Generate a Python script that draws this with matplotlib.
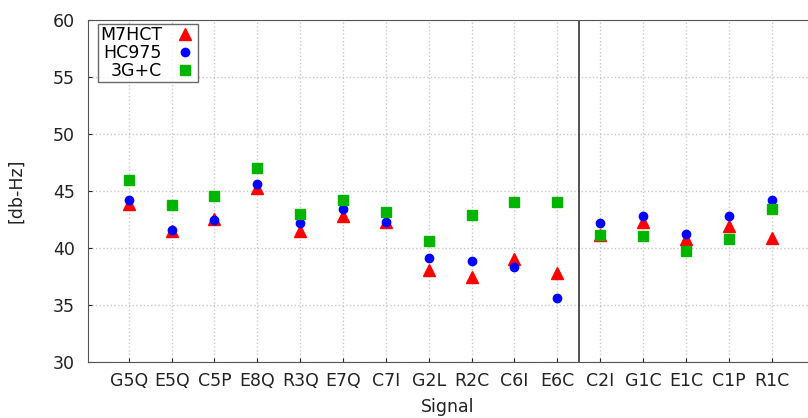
import matplotlib
matplotlib.use("Agg")
import matplotlib.pyplot as plt

# C/N0 per signal for the three receivers
signals = ['G5Q', 'E5Q', 'C5P', 'E8Q', 'R3Q', 'E7Q', 'C7I', 'G2L', 'R2C', 'C6I', 'E6C',
           'C2I', 'G1C', 'E1C', 'C1P', 'R1C']
m7hct = [43.9, 41.5, 42.55, 45.3, 41.5, 42.8, 42.25, 38.05, 37.5, 39.0, 37.8,
         41.1, 42.25, 40.8, 41.9, 40.85]
hc975 = [44.2, 41.55, 42.5, 45.6, 42.2, 43.4, 42.3, 39.15, 38.9, 38.3, 35.6,
         42.2, 42.85, 41.25, 42.8, 44.2]
g3c = [46.0, 43.75, 44.55, 47.0, 42.95, 44.2, 43.2, 40.65, 42.9, 44.0, 44.05,
       41.15, 41.05, 39.75, 40.8, 43.45]

x = list(range(1, len(signals) + 1))

fig = plt.figure(figsize=(8.08, 4.18), dpi=100)
ax = fig.add_axes([0.109, 0.134, 0.891, 0.818])

ax.plot(x, m7hct, '^', color='#ff0000', markersize=8, label='M7HCT', zorder=3)
ax.plot(x, hc975, 'o', color='#0000ff', markersize=6, label='HC975', zorder=4)
ax.plot(x, g3c, 's', color='#00b400', markersize=7.5, label='3G+C', zorder=5)

# split between the two signal groups
ax.axvline(11.5, color='#444444', lw=1.3, zorder=2)

ax.set_xlim(0.05, 16.85)
ax.set_ylim(30, 60)
ax.set_xticks(x)
ax.set_xticklabels(signals)
ax.set_yticks(range(30, 61, 5))
ax.grid(True, linestyle=':', color='#c8c8c8', lw=1.0)
ax.tick_params(labelsize=12.5, colors='#222222', direction='in', length=3)
ax.tick_params(axis='x', pad=7)
ax.tick_params(axis='y', pad=9.5)

for side in ['left', 'top', 'bottom']:
    ax.spines[side].set_color('#555555')
ax.spines['right'].set_visible(False)

ax.set_xlabel('Signal', fontsize=12.5, color='#222222', labelpad=6)
ax.set_ylabel('[db-Hz]', fontsize=12.5, color='#222222', labelpad=19.5)

leg = ax.legend(loc='upper left', bbox_to_anchor=(0.014, 0.988), borderaxespad=0,
                markerfirst=False, fontsize=12.5, fancybox=False,
                borderpad=0.1, labelspacing=0.0,
                handletextpad=0.75, handlelength=1.2, numpoints=1)
leg.get_frame().set_edgecolor('#444444')
leg.get_frame().set_linewidth(1.0)

fig.savefig('out.png', dpi=100)
